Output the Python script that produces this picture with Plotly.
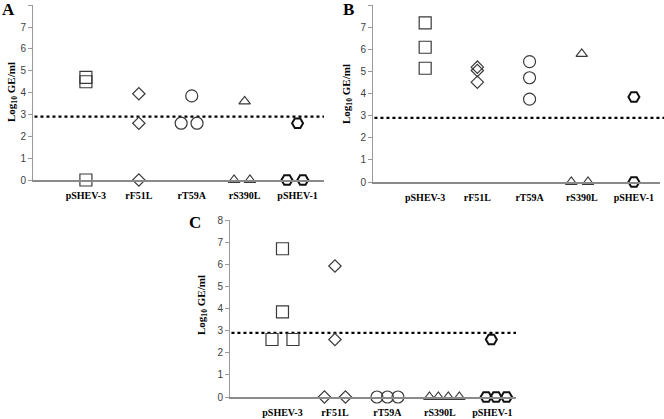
import plotly.graph_objects as go

categories = ["pSHEV-3", "rF51L", "rT59A", "rS390L", "pSHEV-1"]
cat_pos = [1, 2, 3, 4, 5]
y_ticks = [0, 1, 2, 3, 4, 5, 6, 7, 8]
threshold = 2.9

# Panel A
A_group = ["pSHEV-3"] * 3 + ["rF51L"] * 3 + ["rT59A"] * 3 + ["rS390L"] * 3 + ["pSHEV-1"] * 3
A_x = [1.0, 1.0, 1.0, 2.0, 2.0, 2.0, 2.8, 3.1, 3.0, 3.8, 4.1, 4.0, 4.8, 5.1, 5.0]
A_y = [4.7, 4.5, 0.0, 3.95, 2.6, 0.0, 2.6, 2.6, 3.85, 0.0, 0.0, 3.6, 0.0, 0.0, 2.6]

# Panel B
B_group = ["pSHEV-3"] * 3 + ["rF51L"] * 3 + ["rT59A"] * 3 + ["rS390L"] * 3 + ["pSHEV-1"] * 2
B_x = [1.0, 1.0, 1.0, 2.0, 2.0, 2.0, 3.0, 3.0, 3.0, 4.0, 3.8, 4.12, 5.0, 5.0]
B_y = [7.2, 6.1, 5.15, 5.2, 5.05, 4.52, 5.45, 4.72, 3.75, 5.8, 0.0, 0.0, 3.85, 0.0]

# Panel C
C_group = ["pSHEV-3"] * 4 + ["rF51L"] * 4 + ["rT59A"] * 3 + ["rS390L"] * 4 + ["pSHEV-1"] * 4
C_x = [1.0, 1.0, 0.8, 1.2, 2.0, 2.0, 1.8, 2.2, 2.8, 3.0, 3.2, 3.8, 3.97, 4.16, 4.37, 4.88, 5.07, 5.27, 4.98]
C_y = [6.7, 3.85, 2.6, 2.6, 5.92, 2.6, 0.0, 0.0, 0.0, 0.0, 0.0, 0.0, 0.0, 0.0, 0.0, 0.0, 0.0, 0.0, 2.6]

symbols = {
    "pSHEV-3": ("square-open", 12, 1.2, "#3a3a3a"),
    "rF51L": ("diamond-open", 9.5, 1.2, "#3a3a3a"),
    "rT59A": ("circle-open", 12, 1.2, "#3a3a3a"),
    "rS390L": ("triangle-up-open", 10, 1.2, "#3a3a3a"),
    "pSHEV-1": ("hexagon2-open", 11, 2.0, "#111111"),
}

W, H = 664, 419
panels = [
    ("A", A_group, A_x, A_y, (33, 324), (180, 5.3), 5.5, (8, 9), (12, 92)),
    ("B", B_group, B_x, B_y, (373, 660), (182, 5.3), 5.5, (348, 9), (347, 94)),
    ("C", C_group, C_x, C_y, (230, 516), (397, 220), 5.45, (195, 223), (202, 305)),
]

fig = go.Figure()
serif = "Liberation Serif"
sans = "Liberation Sans"

for i, (letter, grp, xs, ys, xpx, ypx, xmax, letpos, titlepos) in enumerate(panels):
    sfx = "" if i == 0 else str(i + 1)
    xa, ya = "x" + sfx, "y" + sfx
    for cat in categories:
        sym, size, lw, col = symbols[cat]
        px = [x for g, x in zip(grp, xs) if g == cat]
        py = [y for g, y in zip(grp, ys) if g == cat]
        fig.add_trace(go.Scatter(
            x=px, y=py, mode="markers", xaxis=xa, yaxis=ya, cliponaxis=False,
            showlegend=False,
            marker=dict(symbol=sym, size=size, color=col, line=dict(width=lw, color=col)),
        ))
    fig.add_shape(type="line", xref=xa + " domain", yref=ya, x0=0.005, x1=1.0 if i != 1 else 1.02,
                  y0=threshold, y1=threshold, line=dict(color="black", width=2.2, dash="dot"),
                  layer="below")
    fig.layout["xaxis" + sfx] = dict(
        domain=[xpx[0] / W, xpx[1] / W], range=[0, xmax], anchor=ya, automargin=False,
        tickvals=cat_pos, ticktext=categories, showgrid=False, zeroline=False,
        showline=True, linecolor="#8a8a8a", linewidth=1.5,
        ticks="outside", ticklen=5, tickcolor="rgba(0,0,0,0)",
        tickfont=dict(family=serif, size=10, color="black", weight="bold"),
    )
    fig.layout["yaxis" + sfx] = dict(
        domain=[1 - ypx[0] / H, 1 - ypx[1] / H], range=[0, 8], anchor=xa, automargin=False,
        tickvals=y_ticks, showgrid=False, zeroline=False,
        showline=True, linecolor="#9a9a9a", linewidth=1,
        ticks="outside", ticklen=4, tickcolor="#9a9a9a",
        tickfont=dict(family=sans, size=10, color="#404040"),
    )
    fig.add_annotation(x=letpos[0] / W, y=1 - letpos[1] / H, xref="paper", yref="paper",
                       xanchor="center", yanchor="middle",
                       text="<b>" + letter + "</b>", showarrow=False,
                       font=dict(family=serif, size=17, color="black"))
    fig.add_annotation(x=titlepos[0] / W, y=1 - titlepos[1] / H, xref="paper", yref="paper",
                       xanchor="center", yanchor="middle",
                       text="<b>Log<sub>10</sub> GE/ml</b>", showarrow=False, textangle=-90,
                       font=dict(family=serif, size=11, color="black"))

fig.update_layout(
    width=W, height=H, margin=dict(l=0, r=0, t=0, b=0, autoexpand=False),
    paper_bgcolor="white", plot_bgcolor="white",
)

fig.write_html(
    "out.html",
    config={"displayModeBar": False},
    post_script="document.body.style.margin='0';document.body.style.overflow='hidden';",
)
